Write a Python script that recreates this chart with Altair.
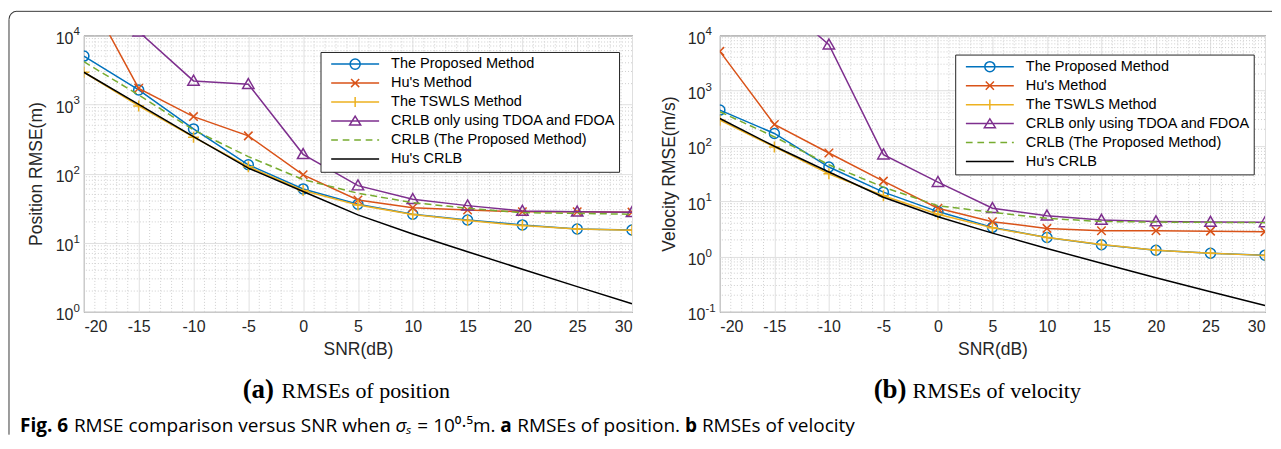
import math
import altair as alt
import pandas as pd

# ---------------- data ----------------
snr = [-20, -15, -10, -5, 0, 5, 10, 15, 20, 25, 30]

series_names = [
    "The Proposed Method",
    "Hu's Method",
    "The TSWLS Method",
    "CRLB only using TDOA and FDOA",
    "CRLB (The Proposed Method)",
    "Hu's CRLB",
]
series_colors = ["#0072BD", "#D95319", "#EDB120", "#7E2F8E", "#77AC30", "#000000"]
series_dash = [None, None, None, None, [7, 4], None]

# position RMSE (m)
pos_proposed = [5000, 1620, 443, 134, 60, 36, 25.8, 21.3, 18.1, 15.8, 15.3]
pos_hu = [49000, 1710, 667, 351, 96, 41.5, 32, 29.8, 28, 28, 27.7]
pos_tswls = [2920, 950, 336, 126, 57, 35, 25.5, 20.9, 17.7, 15.8, 15.2]
pos_crlb_tdfd = [60000, 11300, 2190, 1960, 190, 67, 42.5, 34.4, 28.8, 28, 27.6]
pos_crlb_prop = [4150, 1370, 428, 176, 82, 52, 38, 31.5, 27.2, 26.6, 25.8]
pos_hu_crlb = [2920, 1000, 343, 120, 55, 25.3, 13.4, 7.4, 4.14, 2.32, 1.31]

# velocity RMSE (m/s)
vel_proposed = [444, 168, 41.5, 14.6, 6.5, 3.37, 2.21, 1.63, 1.30, 1.15, 1.06]
vel_hu = [5120, 244, 74.6, 23.1, 7.46, 4.26, 3.23, 2.92, 2.92, 2.88, 2.82]
vel_tswls = [292, 96, 31.3, 12.6, 5.8, 3.3, 2.2, 1.65, 1.3, 1.15, 1.05]
vel_crlb_tdfd = [200000, 48000, 6760, 69.5, 22.1, 7.46, 5.47, 4.57, 4.3, 4.2, 4.15]
vel_crlb_prop = [415, 146, 45.7, 18, 8.3, 6.3, 4.9, 4.3, 4.2, 4.15, 4.1]
vel_hu_crlb = [313, 98.5, 33.7, 11.8, 5.25, 2.65, 1.40, 0.755, 0.415, 0.231, 0.13]

# axes ticks / labels
x_ticks = [-20, -15, -10, -5, 0, 5, 10, 15, 20, 25, 30]
x_minor = [v for v in range(-19, 30) if v % 5 != 0]
y_tick_base = "10"
pos_ticks = [1, 10, 100, 1000, 10000]
pos_tick_exps = ["0", "1", "2", "3", "4"]
vel_ticks = [0.1, 1, 10, 100, 1000, 10000]
vel_tick_exps = ["-1", "0", "1", "2", "3", "4"]
pos_minor = [m * 10.0 ** k for k in range(0, 4) for m in range(2, 10)]
vel_minor = [m * 10.0 ** k for k in range(-1, 4) for m in range(2, 10)]

pos_title = "Position RMSE(m)"
vel_title = "Velocity RMSE(m/s)"
x_title = "SNR(dB)"

# ---------------- styling ----------------
W, H = 549, 277
W2 = 546
AX = "#262626"
GRID = "#e0e0e0"
MINOR = "#cfcfcf"
SANS = "Liberation Sans"
SERIF = "Liberation Serif"

marker_defs = {
    "The Proposed Method": ("circle", 100),
    "Hu's Method": ("M-1,-1L1,1M-1,1L1,-1", 72),
    "The TSWLS Method": ("M-1,0H1M0,-1V1", 121),
    "CRLB only using TDOA and FDOA": ("M0,-1L1,0.75L-1,0.75Z", 130),
}

legend_paths = [
    "M-1,0H1M0.21,0A0.21,0.21,0,1,1,-0.21,0A0.21,0.21,0,1,1,0.21,0",
    "M-1,0H1M-0.17,-0.17L0.17,0.17M-0.17,0.17L0.17,-0.17",
    "M-1,0H1M0,-0.21V0.21",
    "M-1,0H1M0,-0.2L0.23,0.17L-0.23,0.17Z",
    "M-1,0H-0.72M-0.52,0H-0.24M-0.04,0H0.24M0.44,0H0.72M0.92,0H1",
    "M-1,0H1",
]


def long_frame(cols):
    rows = []
    for name, vals in zip(series_names, cols):
        for s, v in zip(snr, vals):
            rows.append({"snr": s, "value": v, "series": name})
    return pd.DataFrame(rows)


def panel(cols, width, ydomain, yticks, yexps, lab_pad, ytitle, title_x,
          minor_vals, leg_x, leg_y, annotations):
    df = long_frame(cols)
    xs = alt.Scale(domain=[-20, 30], nice=False)
    ys = alt.Scale(type="log", domain=ydomain, nice=False)

    x_axis = alt.Axis(
        values=x_ticks, labelExpr="datum.value + ''", grid=True, gridColor=GRID,
        gridWidth=1, ticks=False, domain=False, labelFont=SANS, labelFontSize=16,
        labelColor=AX, labelPadding=7, title=x_title, titleFont=SANS,
        titleFontSize=17.5, titleFontWeight="normal", titleColor=AX,
        titleY=37.5, titleBaseline="middle")
    y_axis = alt.Axis(
        values=yticks, labelExpr=f"'{y_tick_base}'", grid=True,
        gridColor=GRID, gridWidth=1, ticks=False, domain=False, labelFont=SANS,
        labelFontSize=16, labelColor=AX, labelPadding=lab_pad, labelOffset=3,
        title=ytitle, titleFont=SANS, titleFontSize=17.5,
        titleFontWeight="normal", titleColor=AX, titleX=title_x, titleY=H / 2,
        titleAngle=-90, titleAlign="center", titleBaseline="middle")
    x_enc = alt.X("snr:Q", scale=xs, axis=x_axis)
    y_enc = alt.Y("value:Q", scale=ys, axis=y_axis)

    minor_y = alt.Chart(pd.DataFrame({"value": minor_vals})).mark_rule(
        color=MINOR, strokeWidth=1, strokeDash=[1, 2]
    ).encode(y=y_enc)
    minor_x = alt.Chart(pd.DataFrame({"snr": x_minor})).mark_rule(
        color=MINOR, strokeWidth=1, strokeDash=[1, 2]
    ).encode(x=x_enc)

    # superscript exponents of the decade tick labels, placed through the y scale
    exps = alt.Chart(pd.DataFrame({"value": yticks, "e": yexps})).mark_text(
        font=SANS, fontSize=11.5, color=AX, align="left", baseline="alphabetic"
    ).encode(y=y_enc, x=alt.value(-lab_pad + 0.5), text="e:N")

    base = alt.Chart(df)
    data_layers = []
    for name, color, dash in zip(series_names, series_colors, series_dash):
        sub = base.transform_filter(alt.datum.series == name)
        line_kw = dict(clip=True, strokeWidth=1.5, color=color)
        if dash:
            line_kw["strokeDash"] = dash
        data_layers.append(
            sub.mark_line(**line_kw).encode(x=x_enc, y=y_enc, order="snr:Q"))
        if name in marker_defs:
            shape, size = marker_defs[name]
            data_layers.append(
                sub.mark_point(shape=shape, size=size, filled=False,
                               strokeWidth=1.5, opacity=1, clip=True,
                               color=color).encode(x=x_enc, y=y_enc))

    leg = alt.Legend(
        title=None, orient="none", legendX=leg_x, legendY=leg_y,
        fillColor="white", strokeColor=AX, padding=3, symbolOffset=6.7,
        labelOffset=11, clipHeight=18.3, rowPadding=0, labelFont=SANS,
        labelFontSize=14.5, labelColor="#000000", labelLimit=400,
        symbolSize=2304, symbolStrokeWidth=1.5,
    )
    legend_layer = base.transform_filter("false").mark_point(
        filled=False, opacity=1, strokeWidth=1.5
    ).encode(
        color=alt.Color("series:N",
                        scale=alt.Scale(domain=series_names, range=series_colors),
                        legend=leg),
        shape=alt.Shape("series:N",
                        scale=alt.Scale(domain=series_names, range=legend_paths),
                        legend=leg),
    )

    return alt.layer(minor_y, minor_x, exps, *data_layers, legend_layer,
                     *annotations).properties(width=width, height=H)


one = pd.DataFrame({"k": [0]})


def txt(text, x, y, font, size, weight="normal", style="normal", color="#000000"):
    return alt.Chart(one).mark_text(
        text=text, font=font, fontSize=size, fontWeight=weight, fontStyle=style,
        align="left", baseline="alphabetic", color=color
    ).encode(x=alt.value(x), y=alt.value(y))


FRAME = "#3a3a3a"
fx, fy, r = -75, -24, 8
frame = [
    alt.Chart(one).mark_rule(color=FRAME, strokeWidth=1).encode(
        x=alt.value(fx), y=alt.value(fy + r), y2=alt.value(400)),
    alt.Chart(one).mark_rule(color=FRAME, strokeWidth=1).encode(
        x=alt.value(fx + r), x2=alt.value(1190), y=alt.value(fy)),
    alt.Chart(one).mark_arc(radius=r + 0.5, radius2=r - 0.5, theta=1.5 * math.pi,
                            theta2=2 * math.pi, color=FRAME).encode(
        x=alt.value(fx + r), y=alt.value(fy + r)),
]

cap_y = 397
CAP = "Open Sans"
CS = 19
caption = [
    txt("Fig. 6", 20 - 84, cap_y, CAP, CS, weight="bold"),
    txt("RMSE comparison versus SNR when", 74 - 84, cap_y, CAP, CS),
    txt("\u03c3\u209b", 396 - 84, cap_y, CAP, CS, style="italic"),
    txt("= 10\u2070\u00b7\u2075m.", 418 - 84, cap_y, CAP, CS),
    txt("a", 501 - 84, cap_y, CAP, CS, weight="bold"),
    txt("RMSEs of position.", 518 - 84, cap_y, CAP, CS),
    txt("b", 686 - 84, cap_y, CAP, CS, weight="bold"),
    txt("RMSEs of velocity", 703 - 84, cap_y, CAP, CS),
]

sub_a = [
    txt("(a)", 243 - 84, 363, SERIF, 27, weight="bold"),
    txt("RMSEs of position", 282 - 84, 363, SERIF, 22),
]
sub_b = [
    txt("(b)", 875 - 721, 363, SERIF, 27, weight="bold"),
    txt("RMSEs of velocity", 914 - 721, 363, SERIF, 22),
]

left = panel(
    [pos_proposed, pos_hu, pos_tswls, pos_crlb_tdfd, pos_crlb_prop, pos_hu_crlb],
    W, [1, 10000], pos_ticks, pos_tick_exps, 11, pos_title, -47, pos_minor,
    237, 16.7, frame + caption + sub_a)
right = panel(
    [vel_proposed, vel_hu, vel_tswls, vel_crlb_tdfd, vel_crlb_prop, vel_hu_crlb],
    W2, [0.1, 10000], vel_ticks, vel_tick_exps, 15, vel_title, -50, vel_minor,
    235.7, 19.3, sub_b)

chart = alt.hconcat(left, right, spacing=88, bounds="flush").resolve_scale(
    color="independent", shape="independent"
).resolve_legend(
    color="independent", shape="independent"
).properties(
    padding={"left": 0, "top": 2, "right": 0, "bottom": 3}
).configure(
    font=SANS, background="white"
).configure_view(
    stroke=AX, strokeWidth=1
)

chart.save("out.html", embed_options={"renderer": "svg", "actions": False})
